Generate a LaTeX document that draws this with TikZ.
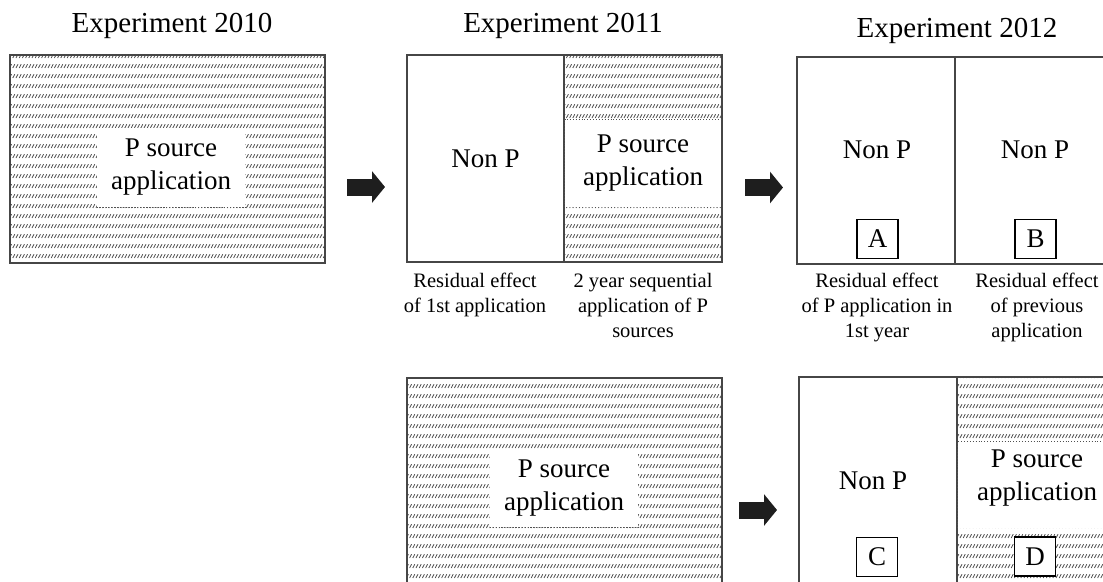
\documentclass[tikz,border=0pt]{standalone}
\usepackage{fontspec}
\setmainfont{Liberation Serif}
\usetikzlibrary{arrows.meta, patterns, positioning}
\definecolor{FrameGray}{RGB}{70,70,70}
\definecolor{HatchGray}{RGB}{80,80,80}
\definecolor{ArrowBlack}{RGB}{30,30,30}

% rows of short slanted strokes
\pgfdeclarepatternformonly{rowslash}{\pgfpoint{-1pt}{-1pt}}{\pgfpoint{5pt}{11pt}}{\pgfpoint{3.2pt}{10pt}}{
  \pgfsetlinewidth{0.8pt}
  \pgfpathmoveto{\pgfpoint{0pt}{3pt}}
  \pgfpathlineto{\pgfpoint{2pt}{6.8pt}}
  \pgfusepath{stroke}
}

\begin{document}
\begin{tikzpicture}[
  x=1pt, y=-1pt,
  frame/.style={draw=FrameGray, line width=1.3pt, inner sep=0pt},
  hatch/.style={frame, pattern=rowslash, pattern color=HatchGray},
  gap/.style={fill=white, inner sep=0pt},
  lbl/.style={font=\fontsize{27}{33}\selectfont, align=center},
  note/.style={font=\fontsize{20.5}{25}\selectfont, align=center,
               inner sep=0pt, anchor=north},
  yeartitle/.style={font=\fontsize{29}{34}\selectfont, anchor=base},
  tag/.style={draw=black, line width=1.2pt, fill=white, minimum width=41pt,
              minimum height=39pt, inner sep=0pt, font=\fontsize{27}{30}\selectfont},
  blockarrow/.style={ArrowBlack, line width=17pt,
                     -{Triangle[length=13pt 0, width=31pt 0]}},
  dotedge/.style={dotted, line width=0.9pt, HatchGray},
]
\useasboundingbox (0,0) rectangle (1103,581);
\clip (0,0) rectangle (1103,581);

% titles
\node[yeartitle] (t10) at (172,32) {Experiment 2010};
\node[yeartitle] (t11) at (563,32) {Experiment 2011};
\node[yeartitle] (t12) at (957,37) {Experiment 2012};

% 2010 panel
\node[hatch, minimum width=315pt, minimum height=208pt] (e10) at (167.5,159) {};
\node[gap, lbl, minimum width=148pt, minimum height=79pt] (g10) at (171,167.5) {P source\\application};
\draw[dotedge] (g10.south west) -- (g10.south east);

% 2011 panel, top
\node[frame, lbl, minimum width=157pt, minimum height=207pt] (n11) at (485.5,158.5) {Non P};
\node[hatch, minimum width=158pt, minimum height=207pt] (p11) at (643,158.5) {};
\node[gap, lbl, minimum width=156.6pt, minimum height=87pt] (g11) at (643,163.5) {P source\\application};
\draw[dotedge] (g11.south west) -- (g11.north west) -- (g11.north east);
\node[note] (c11a) at (475,273) {Residual effect\\of 1st application};
\node[note] (c11b) at (643,273) {2 year sequential\\application of P\\sources};

% 2012 panel, top
\node[frame, minimum width=158pt, minimum height=207pt] (e12a) at (876,160.5) {};
\node[frame, minimum width=158pt, minimum height=207pt] (e12b) at (1034,160.5) {};
\node[lbl] (n12a) at (877,150) {Non P};
\node[lbl] (n12b) at (1035,150) {Non P};
\node[tag] (tA) at (877.5,239) {A};
\node[tag] (tB) at (1035.5,239) {B};
\node[note] (c12a) at (877,273) {Residual effect\\of P application in\\1st year};
\node[note] (c12b) at (1037,273) {Residual effect\\of previous\\application};

% 2011 panel, bottom
\node[hatch, minimum width=315pt, minimum height=222pt] (e11d) at (564.5,489) {};
\node[gap, lbl, minimum width=148pt, minimum height=77pt] (g11d) at (564,488.5) {P source\\application};
\draw[dotedge] (g11d.south west) -- (g11d.south east);

% 2012 panel, bottom
\node[frame, minimum width=158pt, minimum height=223pt] (e12c) at (878,488.5) {};
\node[hatch, minimum width=158pt, minimum height=223pt] (e12d) at (1036,488.5) {};
\node[gap, minimum width=156.4pt, minimum height=86pt] (g12d) at (1036,485) {};
\draw[dotedge] (g12d.south west) -- (g12d.north west) -- (g12d.north east);
\node[lbl] (n12c) at (873,481) {Non P};
\node[lbl] (p12d) at (1037,478) {P source\\application};
\node[tag] (tC) at (877,557) {C};
\node[tag] (tD) at (1035,556.5) {D};

% arrows between years
\coordinate (a1s) at (347,187);
\coordinate (a1e) at (385,187);
\coordinate (a2s) at (745,187.5);
\coordinate (a2e) at (783,187.5);
\coordinate (a3s) at (739,510);
\coordinate (a3e) at (777,510);
\draw[blockarrow] (a1s) -- (a1e);
\draw[blockarrow] (a2s) -- (a2e);
\draw[blockarrow] (a3s) -- (a3e);

\end{tikzpicture}
\end{document}
